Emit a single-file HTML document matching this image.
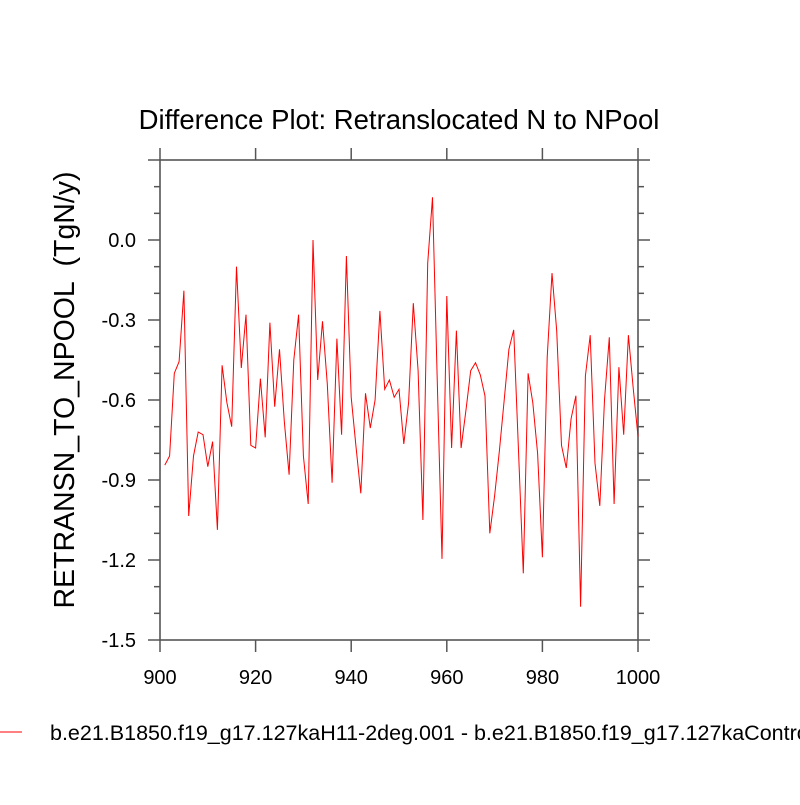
<!DOCTYPE html>
<html><head><meta charset="utf-8"><style>
body{margin:0;background:#fff;width:800px;height:800px;overflow:hidden}
text{font-family:"Liberation Sans",Arial,sans-serif}
</style></head><body>
<svg id="chart" width="800" height="800" viewBox="0 0 800 800" xmlns="http://www.w3.org/2000/svg">
<text x="399" y="129" font-size="27.5" text-anchor="middle">Difference Plot: Retranslocated N to NPool</text>
<text transform="translate(74,390) rotate(-90)" font-size="28.5" text-anchor="middle" style="white-space:pre" xml:space="preserve">RETRANSN_TO_NPOOL  (TgN/y)</text>
<g id="axes"></g>
<polyline id="series" fill="none" stroke="#ff0000" stroke-width="1"></polyline>
<line x1="0" y1="732" x2="22" y2="732" stroke="#ff0000" stroke-width="1"/>
<text x="50" y="740" font-size="21.5">b.e21.B1850.f19_g17.127kaH11-2deg.001 - b.e21.B1850.f19_g17.127kaControl</text>
</svg>
<script>
const years = [];
for (let y = 901; y <= 1000; y++) years.push(y);
const values = [-0.844,-0.81,-0.50,-0.456,-0.19,-1.035,-0.81,-0.72,-0.73,-0.85,
-0.756,-1.087,-0.47,-0.61,-0.70,-0.10,-0.48,-0.28,-0.77,-0.78,
-0.52,-0.74,-0.31,-0.625,-0.41,-0.68,-0.88,-0.45,-0.28,-0.81,
-0.99,0.0,-0.525,-0.305,-0.54,-0.91,-0.37,-0.73,-0.06,-0.59,
-0.775,-0.95,-0.575,-0.705,-0.60,-0.266,-0.56,-0.525,-0.59,-0.56,
-0.765,-0.61,-0.237,-0.49,-1.05,-0.087,0.16,-0.52,-1.196,-0.21,
-0.78,-0.34,-0.78,-0.64,-0.49,-0.46,-0.506,-0.585,-1.10,-0.96,
-0.79,-0.60,-0.41,-0.337,-0.79,-1.25,-0.50,-0.61,-0.80,-1.19,
-0.44,-0.124,-0.34,-0.77,-0.855,-0.67,-0.584,-1.375,-0.51,-0.357,
-0.837,-0.997,-0.60,-0.365,-0.99,-0.477,-0.73,-0.357,-0.555,-0.737];
const xTicks = [900,920,940,960,980,1000];
const yTicks = [0.0,-0.3,-0.6,-0.9,-1.2,-1.5];
const yTickLabels = ["0.0","-0.3","-0.6","-0.9","-1.2","-1.5"];

const X0=160,X1=638,Y0=160,Y1=640;
const xs = v => X0 + (v-900)/(1000-900)*(X1-X0);
const ys = v => Y1 - (v-(-1.5))/(0.3-(-1.5))*(Y1-Y0);
const NS="http://www.w3.org/2000/svg";
const axes=document.getElementById('axes');
function ln(x1,y1,x2,y2,name){const l=document.createElementNS(NS,'line');
l.setAttribute('x1',x1);l.setAttribute('y1',y1);l.setAttribute('x2',x2);l.setAttribute('y2',y2);
l.setAttribute('stroke','#555');l.setAttribute('stroke-width','1.5');


axes.appendChild(l);}
const frame=document.createElementNS(NS,'rect');
frame.setAttribute('x',X0);frame.setAttribute('y',Y0);frame.setAttribute('width',X1-X0);frame.setAttribute('height',Y1-Y0);
frame.setAttribute('fill','none');frame.setAttribute('stroke','#555');frame.setAttribute('stroke-width','1.6');


axes.appendChild(frame);
xTicks.forEach(v=>{const x=xs(v);ln(x,Y1,x,Y1+12,'x-tick');ln(x,Y0,x,Y0-12,'x-tick-top');});
for(let i=-15;i<=3;i++){const v=i/10;const y=ys(v);const major=(i%3===0);const L=major?12:6;
ln(X0,y,X0-L,y,'y-tick');ln(X1,y,X1+L,y,'y-tick-right');}
xTicks.forEach(v=>{const t=document.createElementNS(NS,'text');
t.setAttribute('x',xs(v));t.setAttribute('y',684);t.setAttribute('font-size','20');t.setAttribute('text-anchor','middle');


t.textContent=v;axes.appendChild(t);});
yTicks.forEach((v,i)=>{const t=document.createElementNS(NS,'text');
t.setAttribute('x',136);t.setAttribute('y',ys(v)+7);t.setAttribute('font-size','20');t.setAttribute('text-anchor','end');


t.textContent=yTickLabels[i];axes.appendChild(t);});
document.getElementById('series').setAttribute('points',years.map((y,i)=>xs(y).toFixed(1)+','+ys(values[i]).toFixed(1)).join(' '));
</script>
</body></html>
